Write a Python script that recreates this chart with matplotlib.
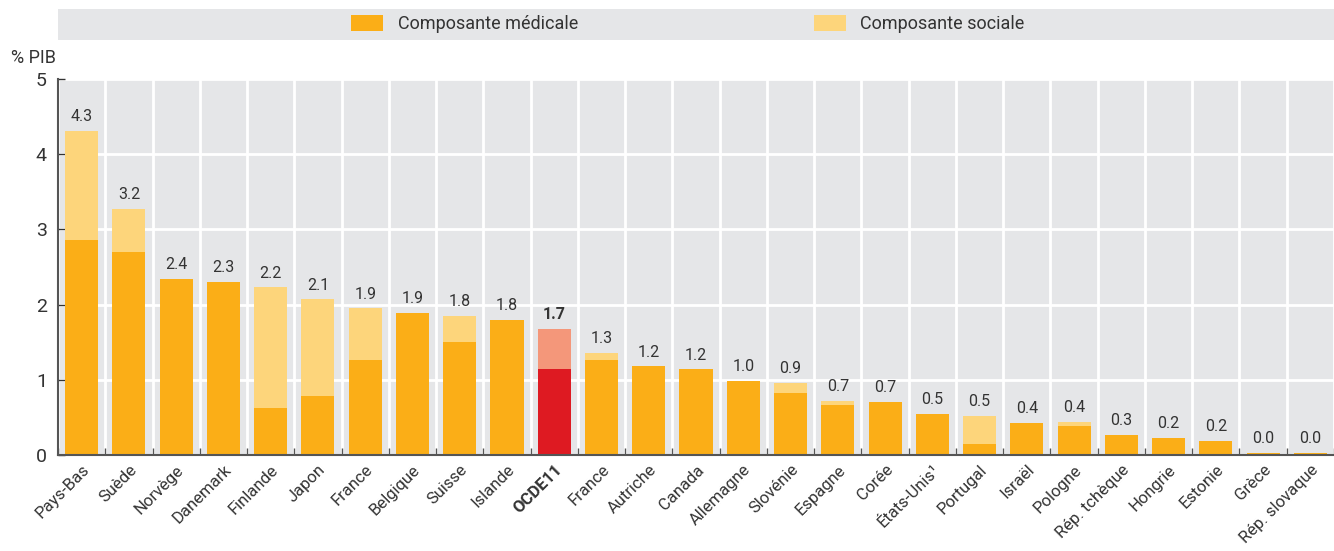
import matplotlib.pyplot as plt
import numpy as np
from matplotlib.patches import Rectangle

plt.rcParams['font.family'] = ['Roboto', 'DejaVu Sans']

countries = ["Pays-Bas", "Suède", "Norvège", "Danemark", "Finlande", "Japon", "France",
             "Belgique", "Suisse", "Islande", "OCDE11", "France", "Autriche", "Canada",
             "Allemagne", "Slovénie", "Espagne", "Corée", "États-Unis¹", "Portugal",
             "Israël", "Pologne", "Rép. tchèque", "Hongrie", "Estonie", "Grèce", "Rép. slovaque"]
medical = [2.86, 2.70, 2.34, 2.30, 0.63, 0.78, 1.26, 1.89, 1.50, 1.80, 1.14, 1.26, 1.18, 1.14,
           0.99, 0.82, 0.66, 0.71, 0.55, 0.15, 0.43, 0.39, 0.27, 0.23, 0.19, 0.03, 0.03]
social = [1.45, 0.57, 0.0, 0.0, 1.60, 1.29, 0.69, 0.0, 0.35, 0.0, 0.54, 0.10, 0.0, 0.0,
          0.0, 0.14, 0.06, 0.0, 0.0, 0.37, 0.0, 0.05, 0.0, 0.0, 0.0, 0.0, 0.0]
labels = ["4.3", "3.2", "2.4", "2.3", "2.2", "2.1", "1.9", "1.9", "1.8", "1.8", "1.7", "1.3",
          "1.2", "1.2", "1.0", "0.9", "0.7", "0.7", "0.5", "0.5", "0.4", "0.4", "0.3", "0.2",
          "0.2", "0.0", "0.0"]
highlight = "OCDE11"

c_med = "#FBAE17"
c_soc = "#FDD57B"
c_med_hl = "#DE1A22"
c_soc_hl = "#F4977A"
bg = "#E5E6E8"
txt = "#333333"

fig = plt.figure(figsize=(13.34, 5.51), dpi=100)
ax = fig.add_axes([0.0435, 0.174, 0.9565, 0.683])
ax.set_facecolor(bg)

x = np.arange(len(countries))
med_colors = [c_med_hl if c == highlight else c_med for c in countries]
soc_colors = [c_soc_hl if c == highlight else c_soc for c in countries]
ax.bar(x, medical, width=0.7, color=med_colors, zorder=3)
ax.bar(x, social, width=0.7, bottom=medical, color=soc_colors, zorder=3)

for i in range(len(countries)):
    top = medical[i] + social[i]
    ax.text(x[i], top + 0.09, labels[i], ha="center", va="bottom", fontsize=11.5, color=txt,
            fontweight="bold" if countries[i] == highlight else "normal")

ax.set_xlim(-0.5, len(countries) - 0.5)
ax.set_ylim(0, 5)
ax.set_yticks([0, 1, 2, 3, 4, 5])
ax.tick_params(axis="y", labelsize=14, colors=txt, length=5, width=1, direction="in", pad=8)
ax.set_xticks(x)
ax.set_xticklabels(countries, rotation=45, ha="right", rotation_mode="anchor", fontsize=12, color=txt)
for lab in ax.get_xticklabels():
    if lab.get_text() == highlight:
        lab.set_fontweight("bold")
ax.tick_params(axis="x", length=0, pad=5)
ax.set_xticks(np.arange(-0.5, len(countries), 1), minor=True)
ax.tick_params(axis="x", which="minor", length=5, width=1, direction="in", color="#555555")

ax.grid(True, which="minor", axis="x", color="white", linewidth=2, zorder=1)
ax.grid(True, which="major", axis="y", color="white", linewidth=2, zorder=1)
for s in ["top", "right"]:
    ax.spines[s].set_visible(False)
for s in ["left", "bottom"]:
    ax.spines[s].set_color("#555555")
    ax.spines[s].set_linewidth(1.5)
    ax.spines[s].set_zorder(4)

fig.text(0.008, 0.894, "% PIB", fontsize=13, color=txt, va="center")

# legend band
fig.patches.append(Rectangle((0.0435, 0.928), 0.9565, 0.056, transform=fig.transFigure,
                             facecolor=bg, edgecolor="none"))
fig.patches.append(Rectangle((0.263, 0.943), 0.024, 0.029, transform=fig.transFigure,
                             facecolor=c_med, edgecolor="none"))
fig.text(0.298, 0.957, "Composante médicale", fontsize=13, color=txt, va="center")
fig.patches.append(Rectangle((0.610, 0.943), 0.024, 0.029, transform=fig.transFigure,
                             facecolor=c_soc, edgecolor="none"))
fig.text(0.645, 0.957, "Composante sociale", fontsize=13, color=txt, va="center")

fig.savefig("out.png", dpi=100)
